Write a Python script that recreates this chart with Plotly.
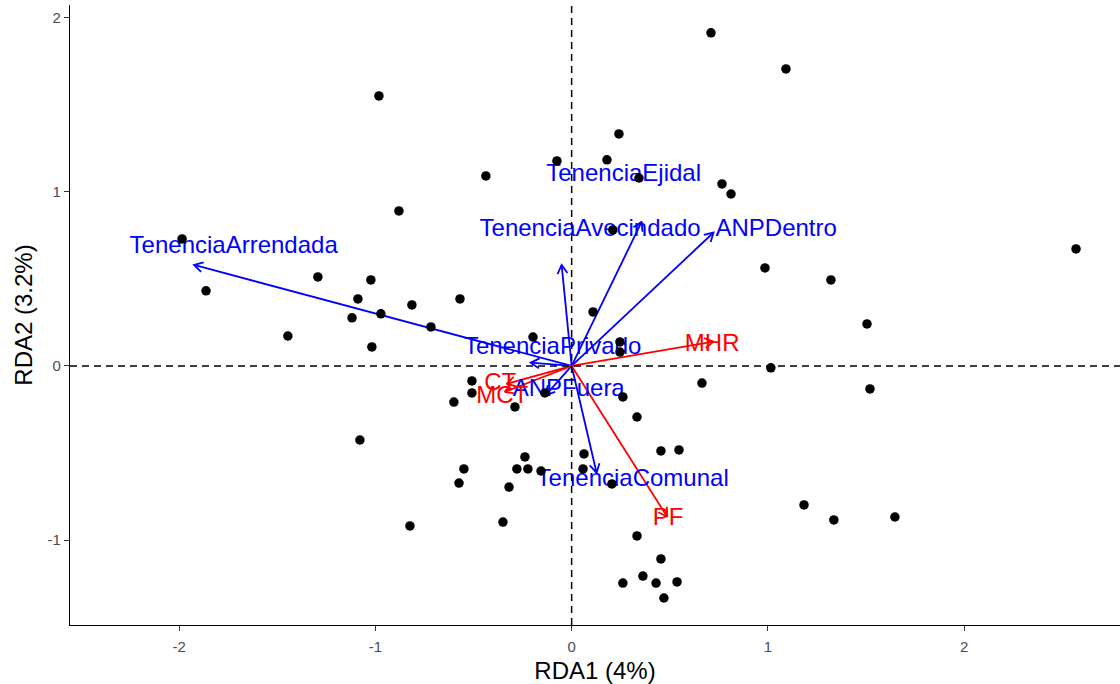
import math
import plotly.graph_objects as go

# ---- site scores (points) ----
site_x = [0.710, 1.092, -0.982, 0.241, -0.075, 0.180, -0.437, 0.343, 0.766, 0.812,
          -0.880, 0.210, -1.985, 2.570, 0.985, -1.293, 1.321, -1.023, -1.863, -1.089,
          -0.569, -0.814, -0.972, -1.119, 1.505, -0.717, 0.109, -0.197, 0.246, 0.246,
          -1.446, -1.018, 1.015, 0.664, 1.520, -0.508, -0.508, -0.600, -0.289, 0.261,
          0.333, -0.136, -1.079, 0.455, 0.547, 0.063, -0.238, -0.279, -0.223, -0.156,
          -0.319, -0.350, 0.058, 0.205, 0.333, 0.455, 0.363, 0.430, 0.261, 0.537,
          0.470, -0.549, -0.574, -0.824, 1.184, 1.336, 1.647]
site_y = [1.912, 1.705, 1.550, 1.332, 1.177, 1.183, 1.091, 1.079, 1.045, 0.987,
          0.890, 0.781, 0.729, 0.672, 0.563, 0.511, 0.494, 0.494, 0.431, 0.385,
          0.385, 0.350, 0.299, 0.276, 0.241, 0.224, 0.310, 0.166, 0.138, 0.080,
          0.172, 0.109, -0.011, -0.098, -0.132, -0.086, -0.155, -0.207, -0.235, -0.178,
          -0.293, -0.155, -0.425, -0.488, -0.482, -0.505, -0.522, -0.591, -0.591, -0.603,
          -0.695, -0.896, -0.591, -0.677, -0.976, -1.108, -1.206, -1.246, -1.246, -1.240,
          -1.332, -0.591, -0.672, -0.918, -0.798, -0.884, -0.867]

# ---- factor (blue) arrows ----
blue_names = ["TenenciaArrendada", "TenenciaEjidal", "TenenciaAvecindado", "ANPDentro",
              "TenenciaPrivado", "ANPFuera", "TenenciaComunal"]
blue_x = [-1.924, 0.357, -0.051, 0.723, -0.209, -0.132, 0.127]
blue_y = [0.580, 0.828, 0.580, 0.766, 0.019, -0.167, -0.613]
blue_lab_x = [-1.722, 0.265, 0.094, 1.042, -0.097, -0.015, 0.311]
blue_lab_y = [0.685, 1.099, 0.783, 0.783, 0.105, -0.136, -0.654]

# ---- continuous (red) arrows ----
red_names = ["MHR", "PF", "CT", "MCT"]
red_x = [0.723, 0.487, -0.331, -0.341]
red_y = [0.140, -0.866, -0.103, -0.149]
red_lab_x = [0.716, 0.492, -0.364, -0.354]
red_lab_y = [0.122, -0.878, -0.102, -0.177]

x_ticks = [-2, -1, 0, 1, 2]
y_ticks = [-1, 0, 1, 2]

# ---- layout geometry ----
W, H = 1120, 684
ML, MR, MT, MB = 70, 0, 5, 59
XR = [-2.556, 2.794]
YR = [-1.487, 2.072]
sx = (W - ML - MR) / (XR[1] - XR[0])
sy = (H - MT - MB) / (YR[1] - YR[0])


def arrow_path(xs, ys, head=10.0, ang=30.0):
    px, py = [], []
    for xe, ye in zip(xs, ys):
        px += [0, xe, None]
        py += [0, ye, None]
        dx, dy = -xe * sx, -ye * sy
        n = math.hypot(dx, dy)
        ux, uy = dx / n, dy / n
        wings = []
        for s in (1, -1):
            a = math.radians(ang) * s
            wx = ux * math.cos(a) - uy * math.sin(a)
            wy = ux * math.sin(a) + uy * math.cos(a)
            wings.append((xe + head * wx / sx, ye + head * wy / sy))
        px += [wings[0][0], xe, wings[1][0], None]
        py += [wings[0][1], ye, wings[1][1], None]
    return px, py


FONT = "Liberation Sans, Arial, sans-serif"
LAB = 24
fig = go.Figure()

# dashed reference lines
fig.add_hline(y=0, line=dict(color="black", width=1.5, dash="7px,5px"))
fig.add_vline(x=0, line=dict(color="black", width=1.5, dash="7px,5px"))

bx, by = arrow_path(blue_x, blue_y)
fig.add_trace(go.Scatter(x=bx, y=by, mode="lines", line=dict(color="#0000FF", width=1.8),
                         hoverinfo="skip", showlegend=False))
rx, ry = arrow_path(red_x, red_y)
fig.add_trace(go.Scatter(x=rx, y=ry, mode="lines", line=dict(color="#FF0000", width=1.8),
                         hoverinfo="skip", showlegend=False))

fig.add_trace(go.Scatter(x=blue_lab_x, y=blue_lab_y, mode="text", text=blue_names,
                         textposition="middle center",
                         textfont=dict(family=FONT, size=LAB, color="#0000FF"),
                         hoverinfo="skip", showlegend=False))
fig.add_trace(go.Scatter(x=red_lab_x, y=red_lab_y, mode="text", text=red_names,
                         textposition="middle center",
                         textfont=dict(family=FONT, size=LAB, color="#FF0000"),
                         hoverinfo="skip", showlegend=False))

fig.add_trace(go.Scatter(x=site_x, y=site_y, mode="markers",
                         marker=dict(color="black", size=9.5, line=dict(width=0)),
                         showlegend=False))

axis_common = dict(showgrid=False, zeroline=False, showline=True, linecolor="black",
                   linewidth=1.2, ticks="outside", ticklen=5, tickwidth=1,
                   tickcolor="#333333", tickfont=dict(family=FONT, size=15, color="#4D4D4D"),
                   mirror=False, automargin=False)

fig.update_layout(
    width=W, height=H,
    margin=dict(l=ML, r=MR, t=MT, b=MB),
    paper_bgcolor="white", plot_bgcolor="white",
    xaxis=dict(range=XR, tickvals=x_ticks, ticktext=[str(v) for v in x_ticks],
               ticklabelstandoff=3,
               title=dict(text="RDA1 (4%)", font=dict(family=FONT, size=24, color="black"),
                          standoff=10),
               **axis_common),
    yaxis=dict(range=YR, tickvals=y_ticks, ticktext=[str(v) for v in y_ticks],
               title=dict(text="RDA2 (3.2%)", font=dict(family=FONT, size=24, color="black"),
                          standoff=8),
               **axis_common),
)

fig.write_html("out.html", config={"displayModeBar": False},
               post_script="document.body.style.margin='0px';")
